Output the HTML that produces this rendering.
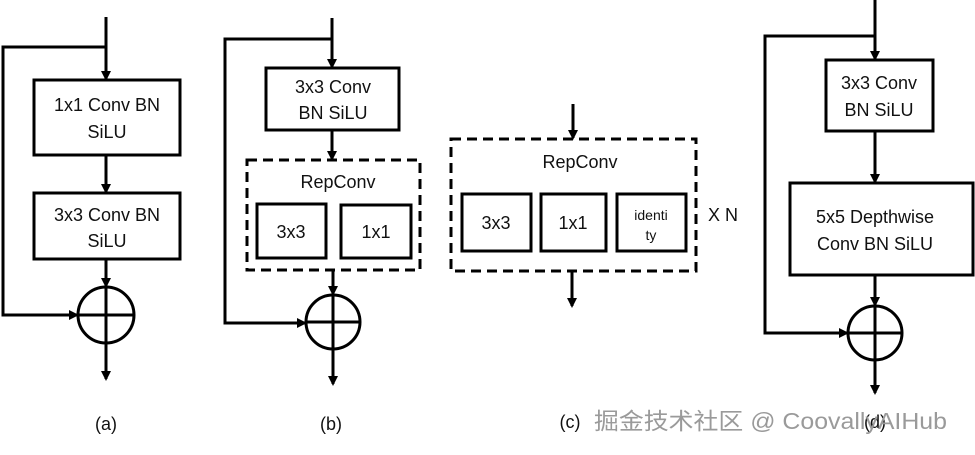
<!DOCTYPE html>
<html><head><meta charset="utf-8"><style>
html,body{margin:0;padding:0;background:#fff;}
svg text{font-family:"Liberation Sans","Noto Sans CJK SC",sans-serif;fill:#111;}
</style></head><body>
<svg width="975" height="450" viewBox="0 0 975 450" xmlns="http://www.w3.org/2000/svg">
<defs><marker id="ar" markerWidth="10" markerHeight="10" refX="8" refY="5" orient="auto" markerUnits="userSpaceOnUse"><path d="M0,0 L10,5 L0,10 z" fill="#000"/></marker></defs>
<g stroke="#000" stroke-width="3" fill="none">
<!-- (a) -->
<line x1="106" y1="17" x2="106" y2="79" marker-end="url(#ar)"/>
<rect x="34" y="80" width="146" height="75"/>
<line x1="106" y1="155" x2="106" y2="192" marker-end="url(#ar)"/>
<rect x="34" y="193" width="146" height="66"/>
<line x1="106" y1="259" x2="106" y2="286" marker-end="url(#ar)"/>
<circle cx="106" cy="315" r="28"/>
<line x1="78" y1="315" x2="134" y2="315"/>
<line x1="106" y1="287" x2="106" y2="379" marker-end="url(#ar)"/>
<polyline points="106,47 3,47 3,315 77,315" marker-end="url(#ar)"/>
<!-- (b) -->
<line x1="332" y1="18" x2="332" y2="67" marker-end="url(#ar)"/>
<rect x="266" y="68" width="133" height="62"/>
<line x1="332" y1="130" x2="332" y2="159" marker-end="url(#ar)"/>
<rect x="247" y="160" width="173" height="110" stroke-dasharray="10,6"/>
<rect x="257" y="204" width="69" height="54"/>
<rect x="341" y="205" width="70" height="53"/>
<line x1="333" y1="270" x2="333" y2="294" marker-end="url(#ar)"/>
<circle cx="333" cy="322" r="27"/>
<line x1="306" y1="322" x2="360" y2="322"/>
<line x1="333" y1="295" x2="333" y2="384" marker-end="url(#ar)"/>
<polyline points="332,39 225,39 225,323 305,323" marker-end="url(#ar)"/>
<!-- (c) -->
<line x1="573" y1="104" x2="573" y2="138" marker-end="url(#ar)"/>
<rect x="451" y="139" width="245" height="132" stroke-dasharray="10,6"/>
<rect x="462" y="194" width="69" height="57"/>
<rect x="541" y="194" width="65" height="57"/>
<rect x="617" y="194" width="69" height="57"/>
<line x1="572" y1="271" x2="572" y2="306" marker-end="url(#ar)"/>
<!-- (d) -->
<line x1="875" y1="0" x2="875" y2="59" marker-end="url(#ar)"/>
<rect x="826" y="60" width="107" height="71"/>
<line x1="875" y1="131" x2="875" y2="182" marker-end="url(#ar)"/>
<rect x="790" y="183" width="183" height="92"/>
<line x1="875" y1="275" x2="875" y2="305" marker-end="url(#ar)"/>
<circle cx="875" cy="333" r="27"/>
<line x1="848" y1="333" x2="902" y2="333"/>
<line x1="875" y1="306" x2="875" y2="393" marker-end="url(#ar)"/>
<polyline points="875,36 765,36 765,333 847,333" marker-end="url(#ar)"/>
</g>
<g font-size="18" text-anchor="middle">
<text x="107" y="111">1x1 Conv BN</text><text x="107" y="138">SiLU</text>
<text x="107" y="221">3x3 Conv BN</text><text x="107" y="247">SiLU</text>
<text x="106" y="430">(a)</text>
<text x="333" y="93">3x3 Conv</text><text x="333" y="119">BN SiLU</text>
<text x="338" y="188">RepConv</text>
<text x="291" y="238">3x3</text><text x="376" y="238">1x1</text>
<text x="651" y="220" font-size="14">identi</text><text x="651" y="240" font-size="14">ty</text>
<text x="496" y="229">3x3</text><text x="573" y="229">1x1</text>
<text x="580" y="168">RepConv</text>
<text x="723" y="221">X N</text>
<text x="331" y="430">(b)</text>
<text x="570" y="428">(c)</text>
<text x="879" y="89">3x3 Conv</text><text x="879" y="116">BN SiLU</text>
<text x="875" y="223">5x5 Depthwise</text><text x="875" y="250">Conv BN SiLU</text>
<text x="875" y="428">(d)</text>
</g>
<text x="594" y="429" font-size="23" textLength="353" lengthAdjust="spacingAndGlyphs" style="fill:#9a9a9a">掘金技术社区 @ CoovallyAIHub</text>
</svg>
</body></html>
